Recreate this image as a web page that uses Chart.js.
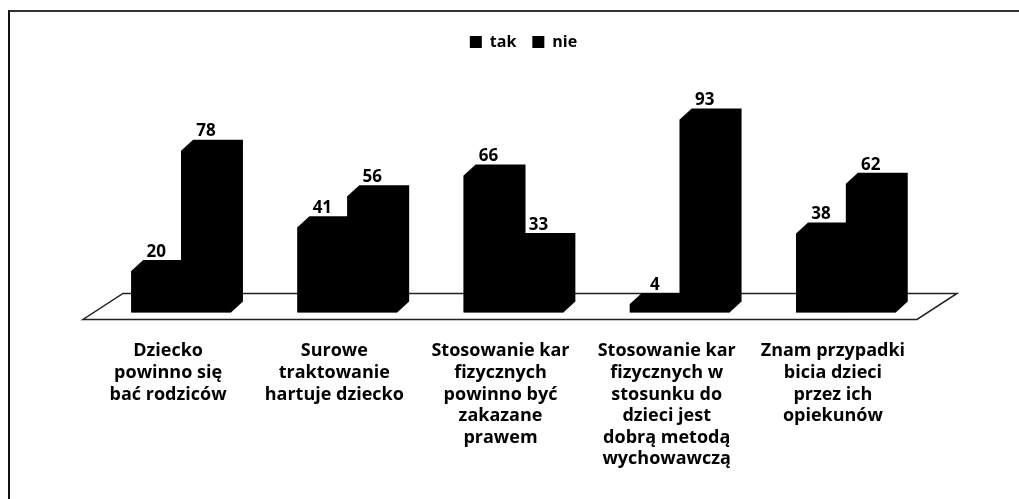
<!DOCTYPE html>
<html>
<head>
<meta charset="utf-8">
<script src="https://cdn.jsdelivr.net/npm/chart.js@4.4.0/dist/chart.umd.min.js"></script>
<style>
  body { margin: 0; background: #fff; }
  #wrap { position: relative; width: 1019px; height: 499px; overflow: hidden; }
  #frame { position: absolute; left: 8px; top: 10px; width: 1030px; height: 510px; border-left: 2px solid #111; border-top: 2px solid #333; }
  canvas { position: absolute; left: 0; top: 0; }
</style>
</head>
<body>
<div id="wrap">
  <div id="frame"></div>
  <canvas id="chart" width="1019" height="499"></canvas>
</div>
<script>
const categories = [
    ['Dziecko', 'powinno się', 'bać rodziców'],
    ['Surowe', 'traktowanie', 'hartuje dziecko'],
    ['Stosowanie kar', 'fizycznych', 'powinno być', 'zakazane', 'prawem'],
    ['Stosowanie kar', 'fizycznych w', 'stosunku do', 'dzieci jest', 'dobrą metodą', 'wychowawczą'],
    ['Znam przypadki', 'bicia dzieci', 'przez ich', 'opiekunów']
];
const tak = [20, 41, 66, 4, 38];
const nie = [78, 56, 33, 93, 62];

// depth of the fake 3d bars
const DX = 12, DY = 11;

// push the plot area down below the legend, and nudge the legend right a bit
const legendGap = {
    id: 'legendGap',
    beforeInit(chart) {
        const legend = chart.legend;
        const fit = legend.fit;
        legend.fit = function() {
            fit.call(this);
            this.height += 45;
        };
        const draw = legend.draw;
        legend.draw = function() {
            this.ctx.save();
            this.ctx.translate(10, 0);
            draw.call(this);
            this.ctx.restore();
        };
    }
};

const bars3d = {
    id: 'bars3d',
    beforeDatasetsDraw(chart) {
        const { ctx, chartArea, scales } = chart;
        const base = scales.y.getPixelForValue(0);
        // floor
        ctx.save();
        ctx.beginPath();
        ctx.moveTo(chartArea.left - 15, base + 7);
        ctx.lineTo(chartArea.right - 12, base + 7);
        ctx.lineTo(chartArea.right + 28, base - 19);
        ctx.lineTo(chartArea.left + 25, base - 19);
        ctx.closePath();
        ctx.fillStyle = '#fff';
        ctx.fill();
        ctx.strokeStyle = '#222';
        ctx.lineWidth = 1.5;
        ctx.stroke();
        ctx.restore();
    },
    afterDatasetsDraw(chart) {
        const ctx = chart.ctx;
        ctx.save();
        chart.data.datasets.forEach((ds, i) => {
            chart.getDatasetMeta(i).data.forEach((bar, j) => {
                const { x, y, base, width } = bar.getProps(['x', 'y', 'base', 'width'], true);
                const l = x - width / 2, r = x + width / 2;
                // whole outline: front + top + side in one go, no seams
                ctx.fillStyle = '#000';
                ctx.beginPath();
                ctx.moveTo(l, base);
                ctx.lineTo(l, y);
                ctx.lineTo(l + DX, y - DY);
                ctx.lineTo(r + DX, y - DY);
                ctx.lineTo(r + DX, base - DY);
                ctx.lineTo(r, base);
                ctx.closePath();
                ctx.fill();

                ctx.font = 'bold 17px "Open Sans"';
                ctx.textAlign = 'center';
                ctx.textBaseline = 'middle';
                ctx.fillText(ds.data[j], x, y - 19);
            });
        });
        ctx.restore();
    }
};

const chart = new Chart(document.getElementById('chart'), {
    type: 'bar',
    data: {
        labels: categories,
        datasets: [
            { label: 'tak', data: tak, backgroundColor: '#000' },
            { label: 'nie', data: nie, backgroundColor: '#000' }
        ]
    },
    options: {
        responsive: false,
        animation: false,
        layout: { padding: { left: 98, right: 90, top: 18, bottom: 1 } },
        datasets: { bar: { categoryPercentage: 0.6, barPercentage: 1 } },
        plugins: {
            legend: {
                position: 'top',
                labels: {
                    boxWidth: 12,
                    boxHeight: 12,
                    padding: 16,
                    color: '#000',
                    font: { family: 'Open Sans', size: 16, weight: 'bold' }
                }
            },
            tooltip: { enabled: false }
        },
        scales: {
            x: {
                grid: { display: false, drawTicks: false },
                border: { display: false },
                ticks: {
                    color: '#000',
                    padding: 28,
                    labelOffset: -13,
                    maxRotation: 0,
                    autoSkip: false,
                    font: { family: 'Open Sans', size: 18, weight: 'bold', lineHeight: 1.2 }
                }
            },
            y: {
                display: false,
                min: 0,
                max: 100
            }
        }
    },
    plugins: [legendGap, bars3d]
});
</script>
</body>
</html>
